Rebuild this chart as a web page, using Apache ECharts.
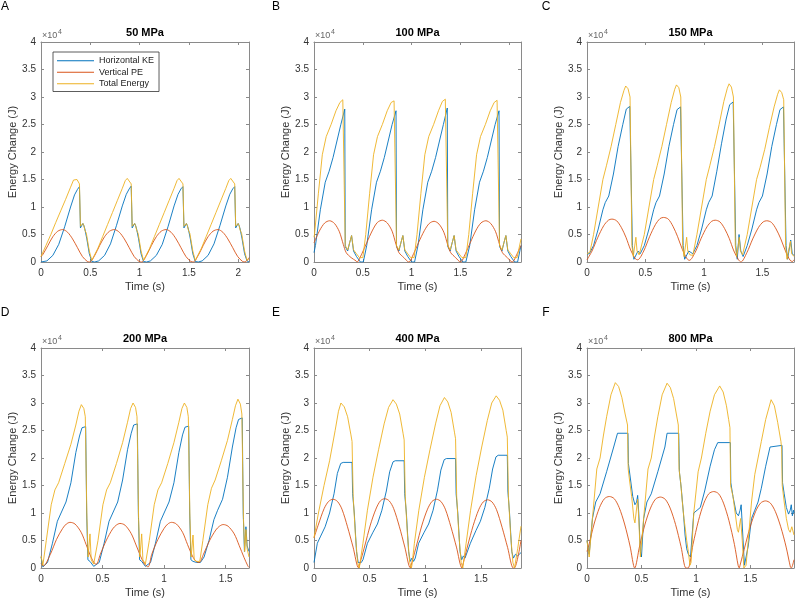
<!DOCTYPE html>
<html><head><meta charset="utf-8">
<script src="https://cdn.jsdelivr.net/npm/echarts@6/dist/echarts.min.js"></script>
<style>html,body{margin:0;padding:0;background:#fff}#c{width:795px;height:600px}</style>
</head><body><div id="c"></div>
<script>
// ---------- data (energy values in units of 10^4 J, time in s) ----------
const seriesNames = ['Horizontal KE', 'Vertical PE', 'Total Energy'];
const panelTitles = ['50 MPa', '100 MPa', '150 MPa', '200 MPa', '400 MPa', '800 MPa'];
const panelLetters = ['A', 'B', 'C', 'D', 'E', 'F'];
const xMaxes = [2.11, 2.12, 1.77, 1.69, 1.86, 1.90];
const yMin = 0, yMax = 4, yInterval = 0.5, xInterval = 0.5;
const yExponentLabel = '×10';
const yExponent = '4';
const xName = 'Time (s)';
const yName = 'Energy Change (J)';

const keA = [[0,0],[0.06,0.02],[0.12,0.12],[0.18,0.32],[0.24,0.64],[0.30,1.0],[0.34,1.22],[0.37,1.32],[0.39,1.37],[0.40,0.62],[0.415,0.6],[0.425,0.7],[0.435,0.66],[0.445,0.6],[0.465,0.42],[0.49,0.15],[0.515,0.01],
[0.545,0],[0.585,0.02],[0.645,0.12],[0.705,0.33],[0.765,0.66],[0.825,1.02],[0.865,1.23],[0.895,1.33],[0.915,1.38],[0.925,0.62],[0.94,0.6],[0.95,0.7],[0.96,0.66],[0.97,0.6],[0.99,0.42],[1.015,0.15],[1.04,0.01],
[1.07,0],[1.11,0.02],[1.17,0.12],[1.23,0.32],[1.29,0.65],[1.35,1.02],[1.39,1.23],[1.42,1.33],[1.44,1.37],[1.45,0.62],[1.465,0.6],[1.475,0.7],[1.485,0.66],[1.495,0.6],[1.515,0.42],[1.54,0.15],[1.565,0.01],
[1.595,0],[1.635,0.02],[1.695,0.12],[1.755,0.33],[1.815,0.66],[1.875,1.02],[1.915,1.23],[1.945,1.33],[1.965,1.37],[1.975,0.62],[1.99,0.6],[2.0,0.7],[2.01,0.66],[2.02,0.6],[2.04,0.42],[2.065,0.15],[2.09,0.02],[2.11,0.0]];
const peA = [[0,0.1],[0.02,0.14],[0.07,0.3],[0.12,0.46],[0.17,0.56],[0.22,0.59],[0.27,0.54],[0.32,0.42],[0.37,0.26],[0.42,0.1],[0.47,0.01],[0.495,0],
[0.545,0.12],[0.595,0.3],[0.645,0.46],[0.695,0.56],[0.745,0.59],[0.795,0.54],[0.845,0.42],[0.895,0.26],[0.945,0.1],[0.995,0.01],[1.02,0],
[1.07,0.12],[1.12,0.3],[1.17,0.46],[1.22,0.56],[1.27,0.59],[1.32,0.54],[1.37,0.42],[1.42,0.26],[1.47,0.1],[1.52,0.01],[1.545,0],
[1.595,0.12],[1.645,0.3],[1.695,0.46],[1.745,0.56],[1.795,0.59],[1.845,0.54],[1.895,0.42],[1.945,0.26],[1.995,0.1],[2.045,0.01],[2.07,0],[2.11,0.08]];
const teA = [[0,0.1],[0.05,0.3],[0.10,0.5],[0.15,0.72],[0.20,0.93],[0.25,1.14],[0.30,1.36],[0.33,1.49],[0.345,1.52],[0.365,1.5],[0.39,1.42],[0.40,0.65],[0.415,0.62],[0.425,0.7],[0.435,0.66],[0.445,0.58],[0.46,0.52],[0.49,0.2],[0.515,0.03],
[0.53,0.03],[0.575,0.24],[0.625,0.46],[0.675,0.68],[0.725,0.9],[0.775,1.12],[0.825,1.34],[0.855,1.48],[0.875,1.52],[0.895,1.5],[0.915,1.42],[0.925,0.65],[0.94,0.62],[0.95,0.7],[0.96,0.66],[0.97,0.58],[0.985,0.52],[1.015,0.2],[1.04,0.03],
[1.055,0.03],[1.10,0.24],[1.15,0.46],[1.20,0.68],[1.25,0.9],[1.30,1.12],[1.35,1.34],[1.38,1.48],[1.40,1.52],[1.42,1.5],[1.44,1.42],[1.45,0.65],[1.465,0.62],[1.475,0.7],[1.485,0.66],[1.495,0.58],[1.51,0.52],[1.54,0.2],[1.565,0.03],
[1.58,0.03],[1.625,0.24],[1.675,0.46],[1.725,0.68],[1.775,0.9],[1.825,1.12],[1.875,1.34],[1.905,1.48],[1.925,1.52],[1.945,1.5],[1.965,1.42],[1.975,0.65],[1.99,0.62],[2.0,0.7],[2.01,0.66],[2.02,0.58],[2.035,0.52],[2.065,0.2],[2.09,0.03],[2.11,0.06]];

const keB = [[0,0.17],[0.015,0.3],[0.065,0.95],[0.115,1.45],[0.155,1.65],[0.195,1.9],[0.235,2.2],[0.275,2.5],[0.315,2.78],[0.32,0.28],[0.345,0.2],[0.365,0.35],[0.385,0.48],[0.405,0.2],[0.435,0.1],[0.475,0],[0.505,0],
[0.51,0.02],[0.54,0.3],[0.59,0.95],[0.64,1.45],[0.68,1.65],[0.72,1.9],[0.76,2.2],[0.80,2.5],[0.84,2.75],[0.845,0.28],[0.87,0.2],[0.89,0.35],[0.91,0.48],[0.93,0.2],[0.96,0.1],[1.0,0],[1.03,0],
[1.035,0.02],[1.065,0.3],[1.115,0.95],[1.165,1.45],[1.205,1.65],[1.245,1.9],[1.285,2.2],[1.325,2.5],[1.365,2.8],[1.37,0.28],[1.395,0.2],[1.415,0.35],[1.435,0.48],[1.455,0.2],[1.485,0.1],[1.525,0],[1.555,0],
[1.565,0.02],[1.595,0.3],[1.645,0.95],[1.695,1.45],[1.735,1.65],[1.775,1.9],[1.815,2.2],[1.855,2.5],[1.895,2.75],[1.9,0.28],[1.925,0.2],[1.945,0.35],[1.965,0.48],[1.985,0.2],[2.015,0.1],[2.055,0],[2.085,0],[2.09,0.02],[2.12,0.3]];
const peB = [[0,0.35],[0.06,0.58],[0.11,0.71],[0.16,0.75],[0.21,0.7],[0.26,0.55],[0.30,0.32],[0.33,0.17],[0.38,0.08],[0.43,0.02],[0.44,0],
[0.49,0.15],[0.54,0.35],[0.60,0.58],[0.65,0.72],[0.70,0.76],[0.75,0.71],[0.80,0.56],[0.84,0.32],[0.87,0.17],[0.92,0.08],[0.97,0.0],
[1.02,0.15],[1.07,0.35],[1.13,0.57],[1.18,0.7],[1.23,0.74],[1.28,0.69],[1.33,0.54],[1.37,0.31],[1.40,0.17],[1.45,0.08],[1.50,0.0],
[1.55,0.15],[1.60,0.35],[1.66,0.58],[1.71,0.71],[1.76,0.75],[1.81,0.7],[1.86,0.55],[1.90,0.32],[1.93,0.17],[1.98,0.08],[2.03,0.0],[2.08,0.15],[2.12,0.3]];
const teB = [[0,0.45],[0.005,0.5],[0.045,1.25],[0.085,1.95],[0.125,2.28],[0.175,2.5],[0.225,2.75],[0.265,2.9],[0.295,2.95],[0.315,2.95],[0.32,0.3],[0.345,0.22],[0.365,0.35],[0.385,0.48],[0.405,0.22],[0.435,0.15],[0.465,0.08],[0.5,0.08],
[0.53,0.5],[0.57,1.25],[0.61,1.95],[0.65,2.28],[0.70,2.5],[0.75,2.75],[0.79,2.9],[0.82,2.93],[0.84,2.93],[0.845,0.3],[0.87,0.22],[0.89,0.35],[0.91,0.48],[0.93,0.22],[0.96,0.15],[0.99,0.08],[1.025,0.08],
[1.055,0.5],[1.095,1.25],[1.135,1.95],[1.175,2.28],[1.225,2.5],[1.275,2.75],[1.315,2.92],[1.345,2.96],[1.365,2.96],[1.37,0.3],[1.395,0.22],[1.415,0.35],[1.435,0.48],[1.455,0.22],[1.485,0.15],[1.515,0.08],[1.555,0.08],
[1.585,0.5],[1.625,1.25],[1.665,1.95],[1.705,2.28],[1.755,2.5],[1.805,2.75],[1.845,2.9],[1.875,2.94],[1.895,2.94],[1.9,0.3],[1.925,0.22],[1.945,0.35],[1.965,0.48],[1.985,0.22],[2.015,0.15],[2.045,0.08],[2.08,0.08],[2.12,0.42]];

const keC = [[0,0.15],[0.02,0.15],[0.056,0.3],[0.096,0.6],[0.136,0.95],[0.156,1.08],[0.186,1.2],[0.226,1.6],[0.266,2.1],[0.306,2.5],[0.336,2.78],[0.366,2.83],[0.376,2.83],[0.388,0.3],[0.401,0.05],[0.416,0.08],[0.436,0.2],
[0.455,0.15],[0.49,0.3],[0.53,0.6],[0.57,0.95],[0.59,1.08],[0.62,1.2],[0.66,1.6],[0.70,2.1],[0.74,2.5],[0.77,2.77],[0.80,2.82],[0.81,2.82],[0.822,0.3],[0.835,0.05],[0.85,0.08],[0.87,0.2],
[0.905,0.15],[0.94,0.3],[0.98,0.6],[1.02,0.95],[1.04,1.08],[1.07,1.2],[1.11,1.65],[1.15,2.15],[1.19,2.6],[1.22,2.86],[1.25,2.91],[1.26,2.91],[1.272,0.3],[1.285,0.05],[1.30,0.5],[1.315,0.2],[1.335,0.1],
[1.37,0.3],[1.41,0.6],[1.45,0.95],[1.47,1.08],[1.50,1.2],[1.54,1.6],[1.58,2.1],[1.62,2.5],[1.65,2.77],[1.68,2.82],[1.69,2.82],[1.702,0.3],[1.715,0.05],[1.73,0.05],[1.742,0.4],[1.755,0.15],[1.77,0.12]];
const peC = [[0,0.04],[0.043,0.2],[0.093,0.45],[0.143,0.66],[0.183,0.76],[0.213,0.78],[0.253,0.75],[0.293,0.63],[0.333,0.45],[0.373,0.22],[0.413,0.06],[0.433,0.04],
[0.485,0.2],[0.535,0.46],[0.585,0.68],[0.625,0.79],[0.655,0.81],[0.695,0.78],[0.735,0.65],[0.775,0.46],[0.815,0.23],[0.855,0.06],[0.875,0.03],
[0.926,0.18],[0.976,0.43],[1.026,0.64],[1.066,0.74],[1.096,0.76],[1.136,0.73],[1.176,0.61],[1.216,0.43],[1.256,0.2],[1.296,0.04],[1.316,0.0],
[1.367,0.17],[1.417,0.42],[1.467,0.63],[1.507,0.73],[1.537,0.75],[1.577,0.72],[1.617,0.6],[1.657,0.42],[1.697,0.2],[1.737,0.03],[1.757,0.01],[1.77,0.04]];
const teC = [[0,0.15],[0.025,0.18],[0.056,0.5],[0.096,1.0],[0.136,1.5],[0.166,1.75],[0.206,2.1],[0.246,2.5],[0.286,2.9],[0.316,3.12],[0.331,3.2],[0.351,3.15],[0.368,3.0],[0.384,0.3],[0.396,0.1],[0.411,0.12],[0.418,0.45],[0.428,0.2],[0.446,0.13],
[0.455,0.12],[0.49,0.5],[0.53,1.0],[0.57,1.5],[0.60,1.75],[0.64,2.1],[0.68,2.5],[0.72,2.9],[0.75,3.14],[0.765,3.22],[0.785,3.17],[0.802,3.0],[0.818,0.3],[0.83,0.1],[0.845,0.12],[0.852,0.45],[0.862,0.2],[0.88,0.13],
[0.905,0.12],[0.94,0.5],[0.98,1.0],[1.02,1.5],[1.05,1.75],[1.09,2.1],[1.13,2.5],[1.17,2.92],[1.20,3.16],[1.215,3.24],[1.235,3.18],[1.252,3.0],[1.268,0.3],[1.28,0.1],[1.295,0.12],[1.302,0.45],[1.312,0.2],[1.33,0.13],
[1.335,0.12],[1.37,0.5],[1.41,1.0],[1.45,1.5],[1.48,1.72],[1.52,2.05],[1.56,2.45],[1.60,2.82],[1.63,3.05],[1.645,3.13],[1.665,3.08],[1.682,2.95],[1.698,0.3],[1.71,0.05],[1.725,0.02],[1.74,0.38],[1.75,0.15],[1.77,0.1]];

const keD = [[0,0.2],[0.015,0.02],[0.023,0.0],[0.053,0.1],[0.093,0.45],[0.133,0.85],[0.163,1.0],[0.203,1.2],[0.243,1.55],[0.283,2.1],[0.313,2.4],[0.333,2.55],[0.363,2.57],[0.371,1.0],[0.381,0.15],[0.398,0.12],[0.413,0.1],[0.428,0.03],
[0.443,0.0],[0.473,0.1],[0.513,0.45],[0.553,0.85],[0.583,1.0],[0.623,1.2],[0.663,1.6],[0.703,2.15],[0.733,2.45],[0.753,2.6],[0.783,2.62],[0.791,1.0],[0.801,0.15],[0.818,0.12],[0.833,0.1],[0.848,0.03],
[0.86,0.0],[0.89,0.1],[0.93,0.45],[0.97,0.85],[1.0,1.0],[1.04,1.2],[1.08,1.55],[1.12,2.1],[1.15,2.42],[1.17,2.56],[1.20,2.58],[1.208,1.0],[1.218,0.15],[1.235,0.12],[1.25,0.12],[1.265,0.1],
[1.295,0.1],[1.325,0.2],[1.365,0.5],[1.405,0.88],[1.435,1.05],[1.475,1.25],[1.515,1.65],[1.555,2.2],[1.585,2.55],[1.605,2.7],[1.635,2.73],[1.643,1.0],[1.653,0.3],[1.665,0.75],[1.675,0.4],[1.69,0.3]];
const peD = [[0,0.08],[0.02,0.04],[0.076,0.25],[0.126,0.52],[0.176,0.72],[0.206,0.8],[0.236,0.83],[0.276,0.8],[0.326,0.65],[0.366,0.43],[0.406,0.2],[0.436,0.08],
[0.45,0.07],[0.482,0.25],[0.532,0.51],[0.582,0.71],[0.612,0.78],[0.642,0.81],[0.682,0.78],[0.732,0.63],[0.772,0.42],[0.812,0.2],[0.842,0.07],[0.87,0.02],
[0.9,0.25],[0.95,0.52],[1.0,0.72],[1.03,0.8],[1.06,0.83],[1.10,0.8],[1.15,0.65],[1.19,0.43],[1.23,0.22],[1.26,0.12],[1.285,0.1],
[1.32,0.25],[1.37,0.5],[1.42,0.69],[1.45,0.76],[1.48,0.79],[1.52,0.76],[1.57,0.62],[1.61,0.41],[1.65,0.19],[1.68,0.04],[1.69,0.01]];
const teD = [[0,0.22],[0.015,0.05],[0.043,0.5],[0.083,1.15],[0.113,1.42],[0.143,1.55],[0.193,1.9],[0.243,2.25],[0.283,2.6],[0.308,2.85],[0.328,2.97],[0.348,2.9],[0.36,2.75],[0.373,0.9],[0.383,0.2],[0.398,0.62],[0.408,0.15],[0.428,0.07],
[0.438,0.05],[0.463,0.5],[0.503,1.15],[0.533,1.42],[0.563,1.55],[0.613,1.9],[0.663,2.28],[0.703,2.65],[0.728,2.9],[0.748,3.0],[0.768,2.92],[0.78,2.75],[0.793,0.9],[0.803,0.2],[0.818,0.62],[0.828,0.15],[0.848,0.07],
[0.855,0.05],[0.88,0.5],[0.92,1.15],[0.95,1.42],[0.98,1.55],[1.03,1.9],[1.08,2.28],[1.12,2.65],[1.145,2.9],[1.165,3.0],[1.185,2.92],[1.197,2.75],[1.21,0.9],[1.22,0.2],[1.235,0.6],[1.245,0.15],[1.265,0.12],
[1.29,0.12],[1.315,0.5],[1.355,1.15],[1.385,1.45],[1.415,1.6],[1.465,1.95],[1.515,2.32],[1.555,2.7],[1.58,2.95],[1.6,3.07],[1.62,2.98],[1.632,2.8],[1.645,0.9],[1.655,0.3],[1.665,0.7],[1.675,0.35],[1.69,0.2]];

const keE = [[0,0.1],[0.03,0.45],[0.06,0.58],[0.1,0.75],[0.14,1.0],[0.18,1.35],[0.21,1.72],[0.24,1.9],[0.262,1.92],[0.342,1.92],[0.347,1.35],[0.362,1.0],[0.382,0.3],[0.397,0.1],[0.41,0.12],[0.425,0.1],
[0.44,0.15],[0.455,0.12],[0.48,0.45],[0.53,0.65],[0.57,0.8],[0.61,1.05],[0.65,1.4],[0.68,1.75],[0.71,1.93],[0.73,1.95],[0.81,1.95],[0.815,1.35],[0.83,1.0],[0.85,0.3],[0.865,0.12],[0.88,0.18],[0.895,0.12],
[0.91,0.18],[0.94,0.45],[0.99,0.65],[1.03,0.8],[1.07,1.05],[1.11,1.42],[1.14,1.78],[1.17,1.97],[1.19,1.99],[1.272,1.99],[1.277,1.35],[1.292,1.0],[1.312,0.3],[1.327,0.15],[1.342,0.22],[1.357,0.18],
[1.372,0.2],[1.405,0.45],[1.455,0.68],[1.495,0.85],[1.535,1.1],[1.575,1.45],[1.605,1.8],[1.635,2.02],[1.655,2.05],[1.737,2.05],[1.742,1.4],[1.757,1.0],[1.777,0.3],[1.792,0.18],[1.81,0.25],[1.83,0.22],[1.86,0.28]];
const peE = [[0,0.55],[0.041,0.8],[0.091,1.08],[0.131,1.21],[0.171,1.25],[0.211,1.21],[0.251,1.07],[0.301,0.75],[0.351,0.38],[0.401,0.0],
[0.406,0.0],[0.456,0.4],[0.506,0.78],[0.556,1.07],[0.596,1.22],[0.636,1.26],[0.676,1.22],[0.716,1.08],[0.766,0.76],[0.816,0.38],[0.866,0.0],
[0.87,0.0],[0.92,0.4],[0.97,0.78],[1.02,1.07],[1.06,1.21],[1.10,1.25],[1.14,1.21],[1.18,1.07],[1.23,0.75],[1.28,0.38],[1.33,0.0],
[1.335,0.0],[1.38,0.4],[1.43,0.77],[1.48,1.06],[1.52,1.2],[1.56,1.24],[1.60,1.2],[1.64,1.06],[1.69,0.74],[1.74,0.37],[1.79,0.0],[1.80,0.0],[1.86,0.5]];
const teE = [[0,0.55],[0.04,1.0],[0.09,1.5],[0.14,1.95],[0.19,2.5],[0.22,2.85],[0.242,3.0],[0.272,2.93],[0.302,2.75],[0.332,2.42],[0.342,2.3],[0.352,1.3],[0.372,0.6],[0.392,0.1],[0.407,0.0],
[0.41,0.0],[0.44,0.45],[0.48,1.05],[0.53,1.65],[0.58,2.15],[0.63,2.62],[0.67,2.92],[0.71,3.06],[0.74,2.98],[0.77,2.8],[0.80,2.45],[0.81,2.33],[0.82,1.3],[0.84,0.6],[0.86,0.1],[0.875,0.0],
[0.88,0.05],[0.902,0.45],[0.942,1.05],[0.992,1.65],[1.042,2.15],[1.092,2.62],[1.132,2.95],[1.172,3.1],[1.202,3.02],[1.232,2.83],[1.262,2.47],[1.272,2.35],[1.282,1.3],[1.302,0.6],[1.322,0.1],[1.337,0.0],
[1.367,0.45],[1.407,1.05],[1.457,1.68],[1.507,2.2],[1.557,2.68],[1.597,3.0],[1.637,3.13],[1.667,3.05],[1.697,2.87],[1.727,2.5],[1.737,2.38],[1.747,1.3],[1.767,0.6],[1.787,0.1],[1.802,0.0],[1.83,0.35],[1.86,0.76]];

const keF = [[0,0.5],[0.02,0.25],[0.05,0.9],[0.08,1.2],[0.12,1.35],[0.18,1.75],[0.245,2.2],[0.28,2.45],[0.376,2.45],[0.38,1.9],[0.40,1.6],[0.42,1.3],[0.44,1.15],[0.455,1.2],[0.465,1.32],[0.475,1.0],[0.49,0.3],[0.5,0.2],
[0.52,0.9],[0.55,1.2],[0.59,1.35],[0.65,1.75],[0.715,2.2],[0.735,2.45],[0.842,2.45],[0.848,1.75],[0.865,1.45],[0.885,1.0],[0.9,0.6],[0.915,0.35],[0.93,0.25],[0.95,0.2],
[0.98,1.0],[1.01,1.05],[1.04,1.1],[1.08,1.4],[1.13,1.85],[1.17,2.15],[1.2,2.28],[1.316,2.28],[1.32,1.55],[1.34,1.3],[1.37,1.0],[1.39,0.95],[1.405,1.05],[1.415,1.15],[1.43,0.6],[1.445,0.05],[1.46,0.05],
[1.48,0.4],[1.51,0.9],[1.54,1.05],[1.57,1.2],[1.6,1.45],[1.64,1.85],[1.68,2.2],[1.69,2.23],[1.79,2.23],[1.795,1.55],[1.81,1.35],[1.83,1.1],[1.85,0.98],[1.865,1.05],[1.875,1.15],[1.885,0.95],[1.895,1.05],[1.9,1.0]];
const peF = [[0,0.3],[0.015,0.4],[0.065,0.8],[0.115,1.1],[0.16,1.26],[0.205,1.3],[0.25,1.26],[0.295,1.1],[0.345,0.8],[0.395,0.4],[0.438,0.0],
[0.483,0.4],[0.533,0.8],[0.583,1.09],[0.628,1.25],[0.673,1.29],[0.718,1.25],[0.763,1.09],[0.813,0.79],[0.863,0.39],[0.908,0.0],
[0.928,0.0],[0.973,0.43],[1.023,0.86],[1.073,1.18],[1.118,1.35],[1.163,1.39],[1.208,1.35],[1.253,1.18],[1.303,0.86],[1.353,0.43],[1.387,0.05],[1.398,0.0],
[1.403,0.0],[1.448,0.38],[1.498,0.75],[1.548,1.03],[1.593,1.18],[1.638,1.22],[1.683,1.18],[1.728,1.03],[1.778,0.75],[1.828,0.38],[1.867,0.02],[1.875,0.0],[1.9,0.15]];
const teF = [[0,0.5],[0.02,0.2],[0.05,0.9],[0.09,1.8],[0.12,2.0],[0.15,2.4],[0.18,2.75],[0.22,3.15],[0.26,3.37],[0.29,3.3],[0.32,3.1],[0.35,2.8],[0.372,2.6],[0.378,1.8],[0.39,1.6],[0.41,1.3],[0.43,0.9],[0.44,0.82],[0.455,0.85],[0.465,1.25],[0.475,0.9],[0.49,0.2],[0.505,0.2],
[0.52,0.9],[0.56,1.8],[0.59,2.0],[0.62,2.4],[0.65,2.75],[0.69,3.15],[0.735,3.36],[0.765,3.28],[0.795,3.08],[0.82,2.8],[0.838,2.6],[0.845,1.8],[0.86,1.55],[0.875,1.2],[0.89,0.9],[0.9,0.75],[0.915,0.5],[0.93,0.3],[0.945,0.05],[0.955,0.1],
[0.98,1.0],[1.02,1.75],[1.05,2.0],[1.09,2.45],[1.13,2.85],[1.17,3.15],[1.218,3.31],[1.25,3.2],[1.28,2.95],[1.30,2.7],[1.312,2.55],[1.318,1.5],[1.34,1.3],[1.36,1.0],[1.38,0.7],[1.39,0.65],[1.41,0.9],[1.425,0.5],[1.44,0.0],[1.46,0.05],
[1.48,0.5],[1.51,1.2],[1.54,1.7],[1.57,2.0],[1.6,2.3],[1.64,2.7],[1.69,3.06],[1.72,2.95],[1.75,2.65],[1.78,2.3],[1.787,2.15],[1.792,1.5],[1.81,1.2],[1.83,0.9],[1.85,0.7],[1.865,0.65],[1.88,0.75],[1.9,0.6]];

const panelData = [[keA, peA, teA], [keB, peB, teB], [keC, peC, teC], [keD, peD, teD], [keE, peE, teE], [keF, peF, teF]];

// ---------- layout / style ----------
const colors = ['#0072BD', '#D95319', '#EDB120'];
const FONT = '"Liberation Sans", Arial, Helvetica, sans-serif';
const gridLefts = [41, 314, 587];
const gridWidths = [208, 207, 207];
const gridTops = [42, 348];
const gridHeight = 220;
const letterX = [5, 276, 546];
const axisColor = '#8a8a8a';
const labelColor = '#333';

const grids = [], xAxes = [], yAxes = [], series = [], graphics = [];
panelData.forEach((sets, i) => {
  const col = i % 3, row = Math.floor(i / 3);
  const left = gridLefts[col], top = gridTops[row], w = gridWidths[col];
  grids.push({ left: left, top: top, width: w, height: gridHeight, show: false });
  const common = {
    type: 'value', gridIndex: i, splitLine: { show: false },
    axisLine: { show: true, onZero: false, lineStyle: { color: axisColor, width: 1 } },
    axisTick: { show: true, inside: true, length: 3, lineStyle: { color: axisColor } }
  };
  xAxes.push(Object.assign({}, common, {
    position: 'bottom', min: 0, max: xMaxes[i], interval: xInterval,
    axisLabel: { show: true, showMaxLabel: false, color: labelColor, fontSize: 10, fontFamily: FONT, margin: 6 },
    name: xName, nameLocation: 'middle', nameGap: 19,
    nameTextStyle: { color: labelColor, fontSize: 11, fontFamily: FONT }
  }));
  xAxes.push(Object.assign({}, common, {
    position: 'top', min: 0, max: xMaxes[i], interval: xInterval, axisLabel: { show: false }
  }));
  yAxes.push(Object.assign({}, common, {
    position: 'left', min: yMin, max: yMax, interval: yInterval,
    axisLabel: { show: true, color: labelColor, fontSize: 10, fontFamily: FONT, margin: 5 },
    name: yName, nameLocation: 'middle', nameGap: 23,
    nameTextStyle: { color: labelColor, fontSize: 11, fontFamily: FONT }
  }));
  yAxes.push(Object.assign({}, common, {
    position: 'right', min: yMin, max: yMax, interval: yInterval, axisLabel: { show: false }
  }));
  sets.forEach((d, k) => {
    series.push({
      type: 'line', name: seriesNames[k], xAxisIndex: 2 * i, yAxisIndex: 2 * i,
      data: d, symbol: 'none', showSymbol: false, clip: true,
      smooth: k === 1 ? 0.3 : false,
      color: colors[k], lineStyle: { color: colors[k], width: 0.9 },
      z: 2 + k, silent: true
    });
  });
  graphics.push({ type: 'text', x: left + w / 2, y: top - 9,
    style: { text: panelTitles[i], font: 'bold 11px ' + FONT, fill: '#000', textAlign: 'center', textVerticalAlign: 'middle' } });
  graphics.push({ type: 'text', x: letterX[col], y: top - 35,
    style: { text: panelLetters[i], font: '12px ' + FONT, fill: '#000', textAlign: 'center', textVerticalAlign: 'middle' } });
  graphics.push({ type: 'text', x: left + 1, y: top - 6,
    style: { text: yExponentLabel, font: '9px ' + FONT, fill: '#666', textAlign: 'left', textVerticalAlign: 'middle' } });
  graphics.push({ type: 'text', x: left + 17, y: top - 10,
    style: { text: yExponent, font: '7px ' + FONT, fill: '#666', textAlign: 'left', textVerticalAlign: 'middle' } });
});

const chart = echarts.init(document.getElementById('c'), null, { renderer: 'canvas' });
chart.setOption({
  animation: false,
  backgroundColor: '#fff',
  grid: grids, xAxis: xAxes, yAxis: yAxes, series: series,
  legend: {
    show: true, left: 53, top: 52, orient: 'vertical',
    data: seriesNames.map(n => ({ name: n, icon: 'rect' })),
    itemWidth: 37, itemHeight: 1, itemGap: 0, itemTextGap: 4, padding: [3, 5, 2, 4],
    borderColor: '#333', borderWidth: 0.8, backgroundColor: '#fff',
    selectedMode: false, textStyle: { fontSize: 9, lineHeight: 11.5, color: '#222', fontFamily: FONT }
  },
  graphic: graphics
});
</script>
</body></html>
